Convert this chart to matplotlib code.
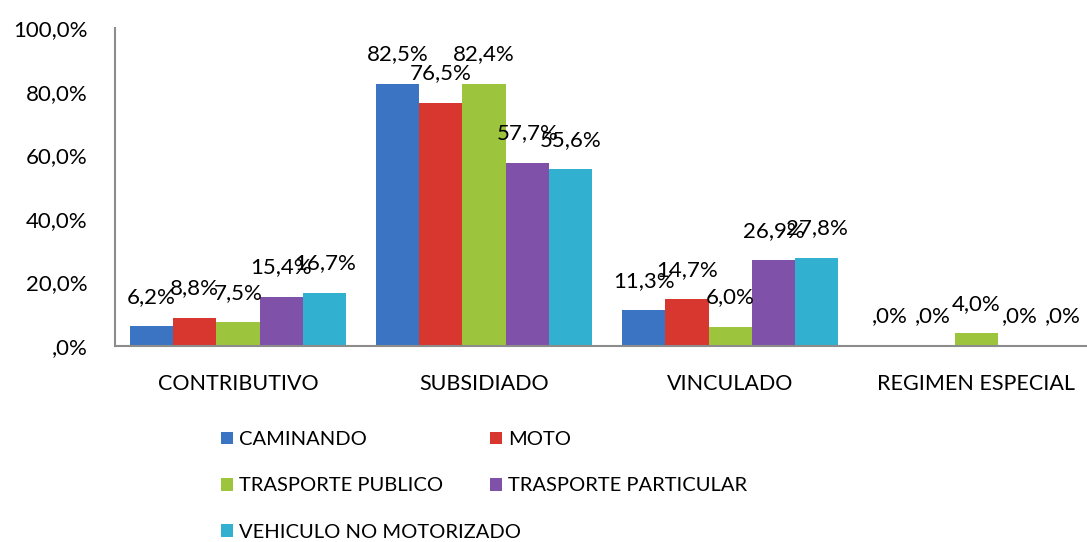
import matplotlib.pyplot as plt
import numpy as np

plt.rcParams['font.family'] = ['Lato', 'DejaVu Sans']

categorias = ["CONTRIBUTIVO", "SUBSIDIADO", "VINCULADO", "REGIMEN ESPECIAL"]
series = ["CAMINANDO", "MOTO", "TRASPORTE PUBLICO", "TRASPORTE PARTICULAR",
          "VEHICULO NO MOTORIZADO"]
caminando = [6.2, 82.5, 11.3, 0.0]
moto = [8.8, 76.5, 14.7, 0.0]
trasporte_publico = [7.5, 82.4, 6.0, 4.0]
trasporte_particular = [15.4, 57.7, 26.9, 0.0]
vehiculo_no_motorizado = [16.7, 55.6, 27.8, 0.0]
valores = [caminando, moto, trasporte_publico, trasporte_particular,
           vehiculo_no_motorizado]
colores = ["#3a74c2", "#d8372f", "#9cc43c", "#7f51a8", "#31b0cf"]
yticks = [0, 20, 40, 60, 80, 100]


def fmt(v):
    s = f"{v:.1f}".replace('.', ',')
    if s.startswith('0'):
        s = s[1:]
    return s + '%'


fig = plt.figure(figsize=(10.87, 5.42), dpi=100)
ax = fig.add_axes([115 / 1087, 1 - 346 / 542, 1 - 115 / 1087, (346 - 28) / 542])

x = np.arange(len(categorias))
ancho = 0.176
for i, (nombre, vals, c) in enumerate(zip(series, valores, colores)):
    pos = x + (i - 2) * ancho
    bars = ax.bar(pos, vals, ancho, color=c, label=nombre,
                  edgecolor='none', zorder=2)
    for b, v in zip(bars, vals):
        ax.annotate(fmt(v), (b.get_x() + b.get_width() / 2, v),
                    xytext=(0, 14), textcoords='offset points',
                    ha='center', va='bottom', fontsize=16, color='black')

ax.set_xlim(-0.5, 3.45)
ax.set_ylim(0, 100)
ax.set_yticks(yticks)
ax.set_yticklabels([fmt(t) for t in yticks], fontsize=16)
ax.set_xticks(x)
ax.set_xticklabels(categorias, fontsize=15.5)
ax.tick_params(axis='both', length=0)
ax.tick_params(axis='x', pad=20)
ax.tick_params(axis='y', pad=20)
for s in ['top', 'right']:
    ax.spines[s].set_visible(False)
for s in ['left', 'bottom']:
    ax.spines[s].set_color('#8c8c8c')
    ax.spines[s].set_linewidth(1.5)

handles, labels = ax.get_legend_handles_labels()
orden = [0, 2, 4, 1, 3]
leg = fig.legend([handles[k] for k in orden], [labels[k] for k in orden],
                 loc='upper left', bbox_to_anchor=(203 / 1087, 1 - 413 / 542),
                 ncol=2, frameon=False, fontsize=14.5, handlelength=0.6,
                 handleheight=0.6, handletextpad=0.3, columnspacing=-1.55,
                 labelspacing=1.45)

fig.savefig("out.png", dpi=100)
